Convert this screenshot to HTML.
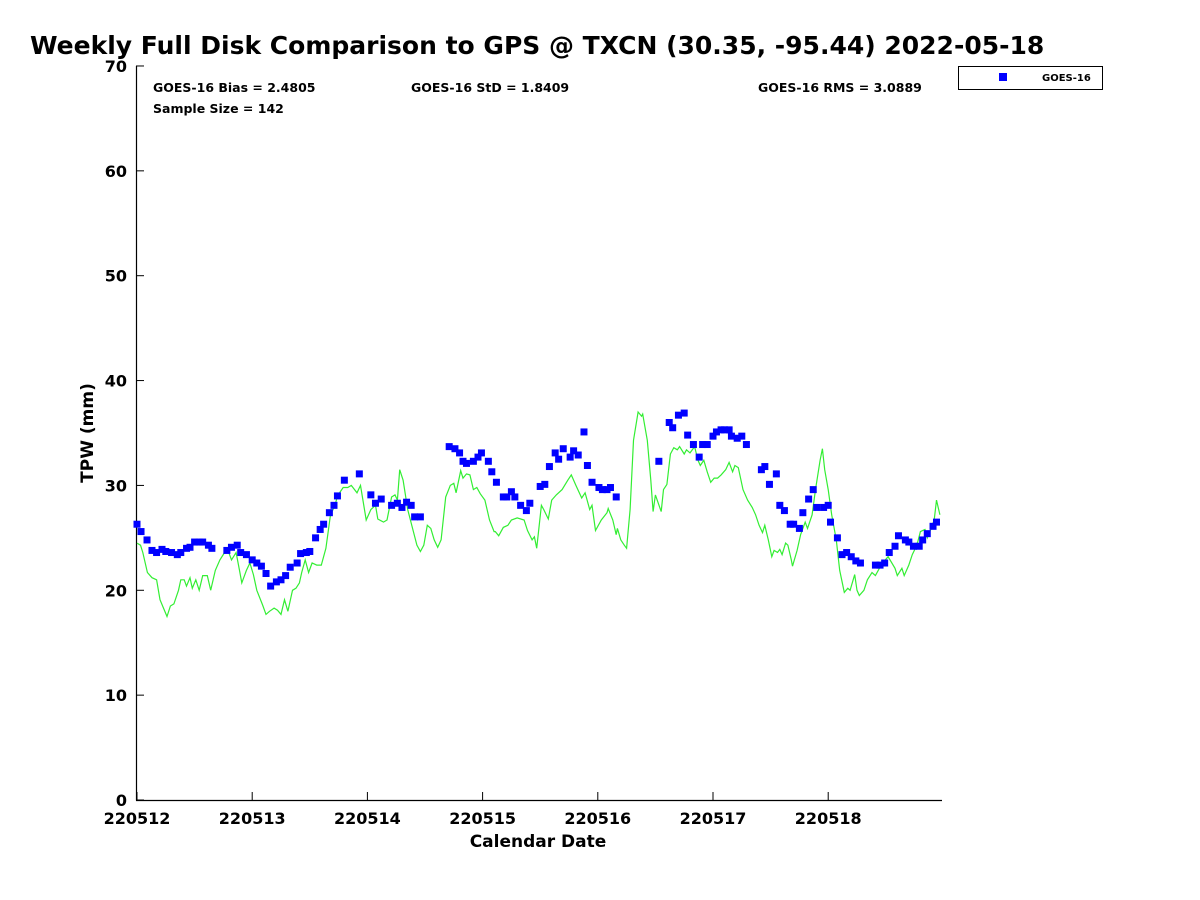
<!DOCTYPE html>
<html><head><meta charset="utf-8"><style>
body{margin:0;background:#fff;}
svg{display:block;font-family:"DejaVu Sans","Liberation Sans",sans-serif;}
</style></head><body>
<svg id="chart" width="1200" height="900" viewBox="0 0 1200 900">
<text x="30" y="54" font-size="25" font-weight="bold">Weekly Full Disk Comparison to GPS @ TXCN (30.35, -95.44) 2022-05-18</text>
<g font-size="12.5" font-weight="bold">
<text x="153" y="92">GOES-16 Bias = 2.4805</text>
<text x="411" y="92">GOES-16 StD = 1.8409</text>
<text x="758" y="92">GOES-16 RMS = 3.0889</text>
<text x="153" y="113">Sample Size = 142</text>
</g>
<g>
<rect x="958.5" y="66.5" width="144" height="23" fill="#fff" stroke="#000" stroke-width="1"/>
<rect x="999" y="73" width="8" height="8" fill="#0000ff"/>
<text x="1042" y="81" font-size="10" font-weight="bold">GOES-16</text>
</g>
<g id="axes"></g>
<g id="marks"></g>
<text x="538" y="847" font-size="17" font-weight="bold" text-anchor="middle">Calendar Date</text>
<text transform="translate(93,433) rotate(-90)" font-size="17" font-weight="bold" text-anchor="middle">TPW (mm)</text>
</svg>
<script>
const xTickLabels=["220512","220513","220514","220515","220516","220517","220518"];
const yTicks=[0,10,20,30,40,50,60,70];
const goesDays=[0,.035,.087,.13,.17,.217,.25,.30,.35,.38,.43,.46,.50,.54,.57,.62,.65,.78,.82,.87,.90,.95,1.0,1.04,1.08,1.12,1.16,1.21,1.25,1.29,1.33,1.39,1.42,1.47,1.50,1.55,1.59,1.62,1.67,1.71,1.74,1.80,1.93,2.03,2.07,2.12,2.21,2.26,2.30,2.34,2.38,2.41,2.46,2.71,2.76,2.80,2.83,2.86,2.92,2.96,2.99,3.05,3.08,3.12,3.18,3.21,3.25,3.28,3.33,3.38,3.41,3.50,3.54,3.58,3.63,3.66,3.70,3.76,3.79,3.83,3.88,3.91,3.95,4.01,4.04,4.08,4.11,4.16,4.53,4.62,4.65,4.70,4.75,4.78,4.83,4.88,4.91,4.95,5.00,5.03,5.07,5.10,5.14,5.16,5.21,5.25,5.29,5.42,5.45,5.49,5.55,5.58,5.62,5.67,5.70,5.75,5.78,5.83,5.87,5.90,5.96,6.00,6.02,6.08,6.12,6.16,6.20,6.24,6.28,6.41,6.45,6.49,6.53,6.58,6.61,6.67,6.70,6.74,6.79,6.82,6.86,6.91,6.94];
const goesValues=[26.3,25.6,24.8,23.8,23.6,23.9,23.7,23.6,23.4,23.6,24.0,24.1,24.6,24.6,24.6,24.3,24.0,23.8,24.1,24.3,23.6,23.4,22.9,22.6,22.3,21.6,20.4,20.8,21.0,21.4,22.2,22.6,23.5,23.6,23.7,25.0,25.8,26.3,27.4,28.1,29.0,30.5,31.1,29.1,28.3,28.7,28.1,28.3,27.9,28.4,28.1,27.0,27.0,33.7,33.5,33.1,32.3,32.1,32.3,32.7,33.1,32.3,31.3,30.3,28.9,28.9,29.4,28.9,28.1,27.6,28.3,29.9,30.1,31.8,33.1,32.5,33.5,32.7,33.3,32.9,35.1,31.9,30.3,29.8,29.6,29.6,29.8,28.9,32.3,36.0,35.5,36.7,36.9,34.8,33.9,32.7,33.9,33.9,34.7,35.1,35.3,35.3,35.3,34.7,34.5,34.7,33.9,31.5,31.8,30.1,31.1,28.1,27.6,26.3,26.3,25.9,27.4,28.7,29.6,27.9,27.9,28.1,26.5,25.0,23.4,23.6,23.2,22.8,22.6,22.4,22.4,22.6,23.6,24.2,25.2,24.8,24.6,24.2,24.2,24.8,25.4,26.1,26.5];
const gpsDays=[0,.03,.05,.09,.13,.17,.2,.23,.26,.29,.32,.36,.38,.41,.43,.46,.48,.51,.54,.57,.61,.64,.68,.72,.76,.79,.82,.86,.89,.91,.95,.98,1.01,1.04,1.09,1.12,1.15,1.19,1.22,1.25,1.28,1.31,1.35,1.38,1.41,1.43,1.46,1.49,1.52,1.56,1.60,1.64,1.68,1.72,1.74,1.79,1.83,1.86,1.91,1.94,1.99,2.03,2.07,2.09,2.14,2.17,2.21,2.24,2.26,2.28,2.31,2.35,2.39,2.43,2.46,2.49,2.52,2.55,2.58,2.61,2.64,2.68,2.72,2.75,2.77,2.81,2.83,2.86,2.89,2.92,2.95,2.98,3.02,3.06,3.10,3.11,3.14,3.18,3.22,3.25,3.30,3.36,3.39,3.43,3.45,3.47,3.51,3.53,3.57,3.60,3.64,3.69,3.74,3.77,3.81,3.86,3.89,3.93,3.95,3.98,4.03,4.08,4.09,4.13,4.16,4.17,4.20,4.23,4.25,4.28,4.31,4.35,4.38,4.39,4.43,4.46,4.48,4.50,4.55,4.57,4.60,4.63,4.66,4.69,4.71,4.75,4.77,4.80,4.84,4.87,4.89,4.92,4.95,4.98,5.01,5.04,5.07,5.11,5.14,5.17,5.19,5.22,5.26,5.30,5.34,5.37,5.40,5.43,5.45,5.48,5.51,5.53,5.56,5.58,5.60,5.63,5.65,5.68,5.69,5.73,5.76,5.80,5.82,5.86,5.89,5.93,5.95,5.97,6.00,6.03,6.07,6.10,6.14,6.17,6.19,6.23,6.25,6.27,6.31,6.34,6.38,6.41,6.45,6.48,6.52,6.58,6.60,6.64,6.66,6.70,6.73,6.77,6.80,6.84,6.86,6.89,6.92,6.94,6.97];
const gpsValues=[24.5,24.3,23.6,21.7,21.2,21.0,19.1,18.3,17.5,18.5,18.7,20.0,21.0,21.0,20.4,21.2,20.2,21.0,20.0,21.4,21.4,20.0,21.9,22.9,23.6,23.8,22.9,23.6,21.9,20.7,21.9,22.6,21.5,20.0,18.6,17.7,18.0,18.3,18.1,17.7,19.1,18.0,20.0,20.2,20.7,21.7,22.9,21.7,22.6,22.4,22.4,24.0,27.2,28.1,29.0,29.8,29.8,30.0,29.3,30.0,26.7,27.7,28.1,26.8,26.5,26.7,28.9,29.1,28.6,31.5,30.5,27.7,26.0,24.3,23.7,24.3,26.2,25.9,24.8,24.1,24.8,28.9,30.0,30.2,29.3,31.4,30.7,31.1,31.0,29.6,29.8,29.2,28.6,26.7,25.6,25.6,25.2,26.0,26.2,26.7,26.9,26.7,25.7,24.8,25.1,24.0,28.1,27.7,26.8,28.6,29.1,29.6,30.5,31.0,30.0,28.8,29.3,27.7,28.1,25.7,26.7,27.4,27.8,26.7,25.3,25.9,24.8,24.3,24.0,27.7,34.3,37.0,36.6,36.8,34.3,30.5,27.5,29.1,27.5,29.6,30.1,33.0,33.6,33.4,33.7,33.0,33.4,33.1,33.7,32.4,31.9,32.4,31.3,30.3,30.7,30.7,31.0,31.5,32.2,31.3,31.9,31.7,29.6,28.6,27.9,27.2,26.2,25.5,26.2,24.8,23.2,23.8,23.6,23.9,23.4,24.5,24.3,22.9,22.3,23.8,25.3,26.5,25.9,27.2,29.6,32.4,33.5,31.5,29.6,27.2,24.8,21.9,19.8,20.2,20.0,21.5,20.0,19.5,20.0,21.0,21.7,21.4,22.2,22.7,23.2,22.1,21.4,22.1,21.4,22.4,23.4,24.3,25.6,25.8,25.0,25.8,26.7,28.6,27.2];

const NS="http://www.w3.org/2000/svg";
const X0=137,DAYW=115.2,Y0=800,YS=10.486;
function xs(d){return X0+d*DAYW;}
function ys(v){return Y0-v*YS;}
function mk(tag,attrs,parent){const e=document.createElementNS(NS,tag);for(const k in attrs)e.setAttribute(k,attrs[k]);parent.appendChild(e);return e;}
const axes=document.getElementById('axes'),marks=document.getElementById('marks');

let a=mk('line',{x1:136.5,y1:66,x2:136.5,y2:800.5,stroke:'#000','stroke-width':1.2},axes);


a=mk('line',{x1:136,y1:800.5,x2:942,y2:800.5,stroke:'#000','stroke-width':1.2},axes);


yTicks.forEach(v=>{
  const y=ys(v);
  const t=mk('line',{x1:136,y1:y,x2:144,y2:y,stroke:'#000'},axes);
  
  
  const l=mk('text',{x:127,y:y+6,'font-size':16,'font-weight':'bold','text-anchor':'end'},axes);
  l.textContent=v;
  
  
});
xTickLabels.forEach((s,i)=>{
  const x=xs(i);
  const t=mk('line',{x1:x,y1:800,x2:x,y2:792,stroke:'#000'},axes);
  
  
  const l=mk('text',{x:x,y:824,'font-size':16,'font-weight':'bold','text-anchor':'middle'},axes);
  l.textContent=s;
  
  
});
const pts=gpsDays.map((d,i)=>xs(d).toFixed(1)+','+ys(gpsValues[i]).toFixed(1)).join(' ');
const pl=mk('polyline',{points:pts,fill:'none',stroke:'#33ee33','stroke-width':1.2},marks);


goesDays.forEach((d,i)=>{
  const r=mk('rect',{x:xs(d)-3.5,y:ys(goesValues[i])-3.5,width:7,height:7,fill:'#0000ff'},marks);
  
  
});
</script>
</body></html>
